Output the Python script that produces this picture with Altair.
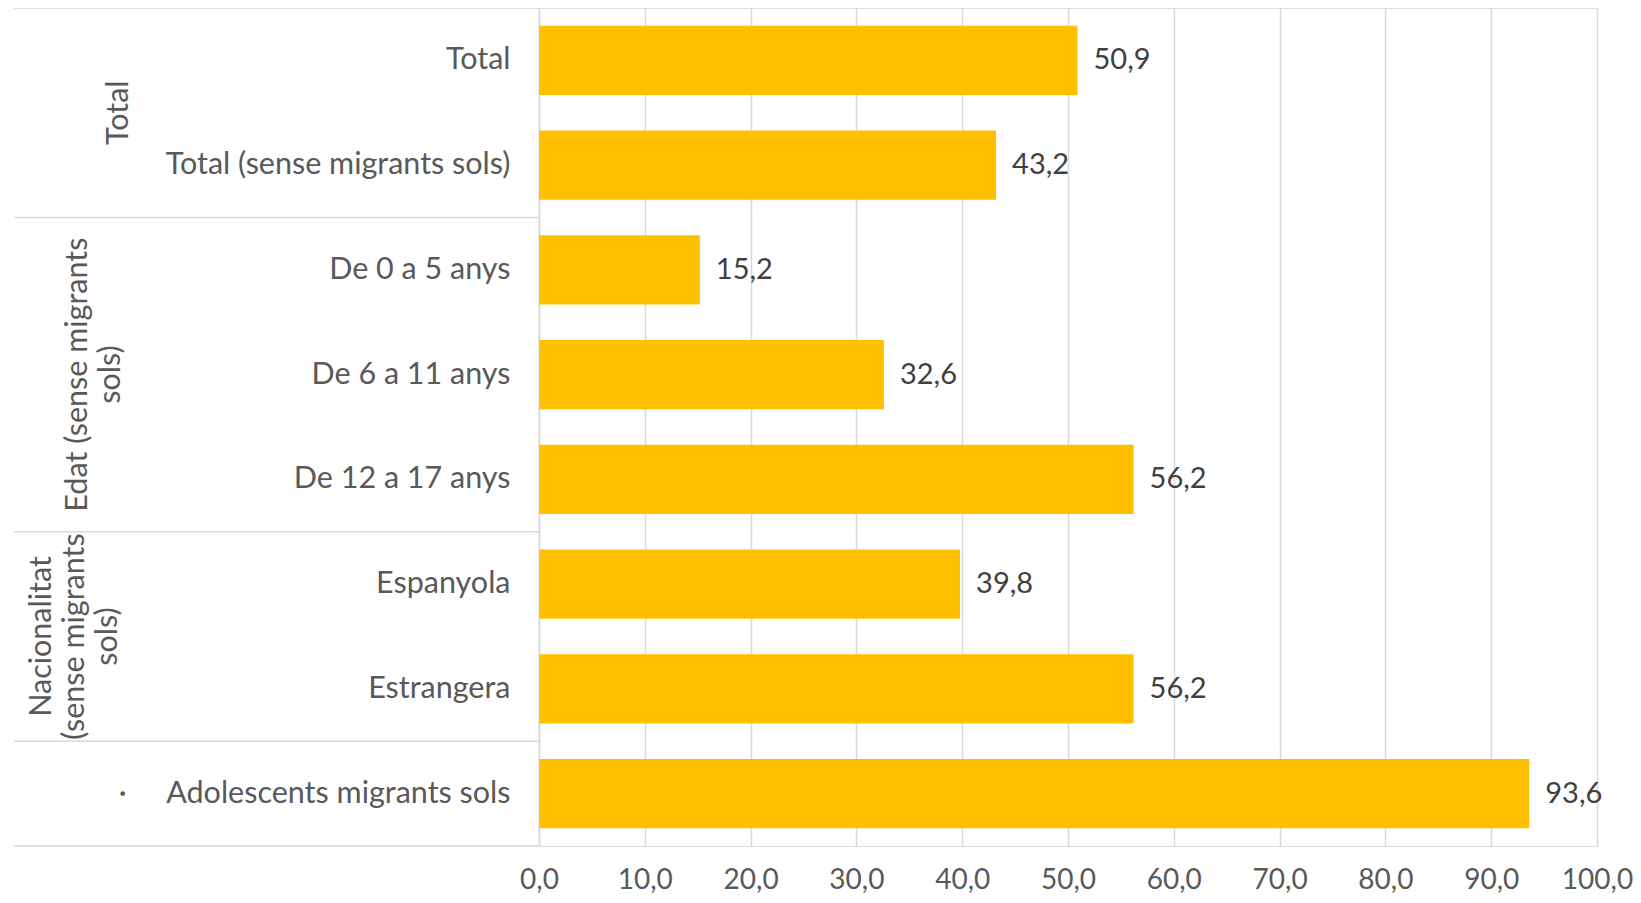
import altair as alt
import pandas as pd

categories = ["Total", "Total (sense migrants sols)", "De 0 a 5 anys", "De 6 a 11 anys",
              "De 12 a 17 anys\u00a0", "Espanyola", "Estrangera", "Adolescents migrants sols"]
values = [50.9, 43.2, 15.2, 32.6, 56.2, 39.8, 56.2, 93.6]

group_labels = ["Total", "Edat (sense migrants\nsols)", "Nacionalitat\n(sense migrants\nsols)", "\u00b7"]
group_start = [0, 2, 5, 7]
group_size = [2, 3, 2, 1]
separators = [0, 2, 5, 7, 8]

FONT = "Lato"
FS = 30.5
FS_VAL = 29
FS_AX = 28
GRID = "#D9D9D9"

df = pd.DataFrame({"cat": categories, "v": values})
gdf = pd.DataFrame({"g": group_labels, "start": group_start, "size": group_size})
gdf["mid"] = gdf["start"] + gdf["size"] / 2
sdf = pd.DataFrame({"s": separators})

yband = alt.Y("cat:N", sort=categories,
              scale=alt.Scale(paddingInner=0.34, paddingOuter=0.17),
              axis=alt.Axis(title=None, ticks=False, domain=True, domainColor=GRID,
                            domainWidth=1.5, labelFont=FONT, labelFontSize=FS,
                            labelColor="#595959", labelPadding=29, labelLimit=600))
xq = alt.X("v:Q", scale=alt.Scale(domain=[0, 100], nice=False),
           axis=alt.Axis(title=None, values=list(range(0, 101, 10)), ticks=False,
                         domain=False, grid=True, gridColor=GRID, gridWidth=1.5,
                         labelFont=FONT, labelFontSize=FS_AX, labelColor="#595959",
                         labelPadding=20, labelOverlap=False, labelFlush=False,
                         labelExpr="replace(format(datum.value, '.1f'), '.', ',')"))

bars = alt.Chart(df).mark_bar(color="#FFC000").encode(x=xq, y=yband)
vals = alt.Chart(df).transform_calculate(
    lab="replace(format(datum.v, '.1f'), '.', ',')"
).mark_text(align="left", baseline="middle", dx=16, font=FONT, fontSize=FS_VAL,
            color="#404040").encode(x="v:Q", y=alt.Y("cat:N", sort=categories), text="lab:N")
main = alt.layer(bars, vals)

gscale = alt.Scale(domain=[0, 8], reverse=True, nice=False, zero=False)
rules = alt.Chart(sdf).mark_rule(color=GRID, strokeWidth=1.5).encode(
    y=alt.Y("s:Q", scale=gscale, axis=None),
    x=alt.value(-525), x2=alt.value(0))

group_x = {"Total": -405, "Edat (sense migrants\nsols)": -446,
           "Nacionalitat\n(sense migrants\nsols)": -482, "\u00b7": -401}
glayers = []
for lab in group_labels:
    glayers.append(
        alt.Chart(gdf).transform_filter(alt.datum.g == lab).mark_text(
            angle=270, align="center", baseline="bottom", font=FONT, fontSize=FS,
            color="#595959", lineBreak="\n", lineHeight=33
        ).encode(y=alt.Y("mid:Q", scale=gscale, axis=None), x=alt.value(group_x[lab]), text="g:N")
    )
groups = alt.layer(rules, *glayers)

chart = alt.layer(main, groups).resolve_scale(y="independent").properties(
    width=1058, height=838,
    autosize=alt.AutoSizeParams(type="none"),
    padding={"left": 531, "top": 0, "right": 36, "bottom": 49},
).configure_view(stroke=None).configure(background="white")

chart.save("out.html", embed_options={"renderer": "svg", "actions": False})
